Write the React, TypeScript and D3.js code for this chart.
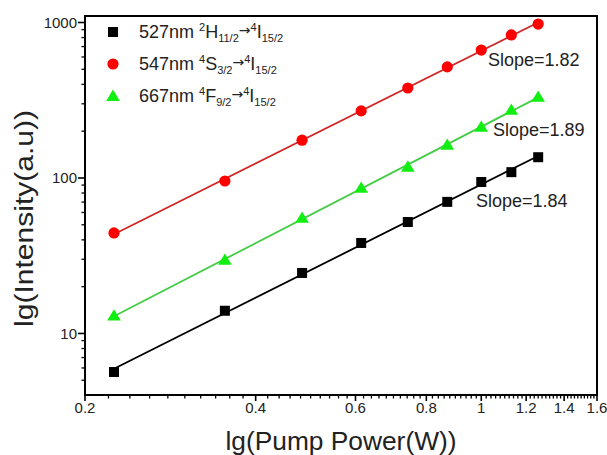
import React from "react";
import * as d3 from "d3";

const power = [0.225, 0.353, 0.483, 0.614, 0.742, 0.871, 1.0, 1.13, 1.26];
const i527 = [5.65, 14.0, 24.5, 38.2, 52.1, 70.2, 94.2, 109, 136];
const i547 = [44.3, 95.6, 175, 270, 379, 518, 665, 832, 977];
const i667 = [13.0, 29.7, 55.3, 86.3, 118, 163, 213, 274, 332];
const slopeLabels = ["Slope=1.82", "Slope=1.89", "Slope=1.84"];
const xTicks = [0.2, 0.4, 0.6, 0.8, 1, 1.2, 1.4, 1.6];
const xTickLabels = ["0.2", "0.4", "0.6", "0.8", "1", "1.2", "1.4", "1.6"];
const yTicks = [10, 100, 1000];
const yTickLabels = ["10", "100", "1000"];

const W = 607, H = 455;
const L = 85, R = 597, T = 16, B = 395;
const font = "Arial, 'Liberation Sans', sans-serif";

const x = d3.scaleLog().domain([0.2, 1.6]).range([L, R]);
const y = d3.scaleLog().domain([4.02, 1101]).range([B, T]);

function fit(xs: number[], ys: number[]) {
  const lx = xs.map(Math.log10), ly = ys.map(Math.log10);
  const mx = d3.mean(lx)!, my = d3.mean(ly)!;
  let num = 0, den = 0;
  lx.forEach((v, i) => { num += (v - mx) * (ly[i] - my); den += (v - mx) ** 2; });
  const k = num / den, b = my - k * mx;
  const x0 = xs[0], x1 = xs[xs.length - 1];
  return [[x0, Math.pow(10, b + k * Math.log10(x0))], [x1, Math.pow(10, b + k * Math.log10(x1))]];
}

const line = d3.line<number[]>().x(d => x(d[0])).y(d => y(d[1]));

const series = [
  { data: i527, marker: "square", fill: "#000000", stroke: "#000000" },
  { data: i547, marker: "circle", fill: "#ff0000", stroke: "#cc2a2a" },
  { data: i667, marker: "triangle", fill: "#11ee11", stroke: "#44cc44" },
];

function Marker({ type, cx, cy, fill }: { type: string; cx: number; cy: number; fill: string }) {
  if (type === "square") return <rect x={cx - 5} y={cy - 5} width={10} height={10} fill={fill} />;
  if (type === "circle") return <circle cx={cx} cy={cy} r={5.6} fill={fill} />;
  const s = 6.5;
  return <path d={`M${cx},${cy - s}L${cx + s * 1.05},${cy + s * 0.75}L${cx - s * 1.05},${cy + s * 0.75}Z`} fill={fill} />;
}

const minorX = d3.range(0.2, 1.6001, 0.02).map(v => +v.toFixed(2)).filter(v => !xTicks.some(t => Math.abs(t - v) < 1e-6));
const minorY: number[] = [];
[1, 10, 100].forEach(d => { for (let m = 2; m <= 9; m++) { const v = m * d; if (v >= 4.02 && v <= 1101) minorY.push(v); } });

const legendRows = [
  { y: 32, marker: "square", fill: "#000000", nm: "527nm ", pre: "2", el: "H", sub: "11/2" },
  { y: 64, marker: "circle", fill: "#ff0000", nm: "547nm ", pre: "4", el: "S", sub: "3/2" },
  { y: 96, marker: "triangle", fill: "#11ee11", nm: "667nm ", pre: "4", el: "F", sub: "9/2" },
];

const slopePos = [
  { x: 488, y: 66 },
  { x: 493, y: 136 },
  { x: 476, y: 207 },
];

export default function App() {
  return (
    <svg width={W} height={H} style={{ position: "absolute", left: 0, top: 0, background: "#fff" }} fontFamily={font}>
      <rect x={0} y={0} width={W} height={H} fill="#fff" />
      {minorX.map((v, i) => (
        <line key={"mx" + i} x1={x(v)} x2={x(v)} y1={B} y2={B + 3.5} stroke="#000" strokeWidth={1.3} />
      ))}
      {xTicks.map((v, i) => (
        <g key={"xt" + i}>
          <line x1={x(v)} x2={x(v)} y1={B} y2={B + 6} stroke="#000" strokeWidth={1.6} />
          <text x={x(v)} y={413} fontSize={15} textAnchor="middle" fill="#222">{xTickLabels[i]}</text>
        </g>
      ))}
      {minorY.map((v, i) => (
        <line key={"my" + i} x1={L - 3.5} x2={L} y1={y(v)} y2={y(v)} stroke="#000" strokeWidth={1.3} />
      ))}
      {yTicks.map((v, i) => (
        <g key={"yt" + i}>
          <line x1={L - 7} x2={L} y1={y(v)} y2={y(v)} stroke="#000" strokeWidth={1.6} />
          <text x={77} y={y(v)} dy="0.36em" fontSize={15} textAnchor="end" fill="#222">{yTickLabels[i]}</text>
        </g>
      ))}
      <rect x={L} y={T} width={R - L} height={B - T} fill="none" stroke="#000" strokeWidth={2} />

      {series.map((s, i) => (
        <path key={"l" + i} d={line(fit(power, s.data))!} fill="none" stroke={s.stroke} strokeWidth={1.8} />
      ))}
      {series.map((s, i) => s.data.map((v, j) => (
        <Marker key={`m${i}-${j}`} type={s.marker} cx={x(power[j])} cy={y(v)} fill={s.fill} />
      )))}

      {slopeLabels.map((t, i) => (
        <text key={"s" + i} x={slopePos[i].x} y={slopePos[i].y} fontSize={18} fill="#222">{t}</text>
      ))}

      {legendRows.map((r, i) => (
        <g key={"lg" + i}>
          <Marker type={r.marker} cx={113} cy={r.y} fill={r.fill} />
          <text x={139} y={r.y + 6} fontSize={18} fill="#222">
            <tspan>{r.nm}</tspan>
            <tspan fontSize={11} dy={-7}>{r.pre}</tspan>
            <tspan dy={7}>{r.el}</tspan>
            <tspan fontSize={11} dy={4}>{r.sub}</tspan>
            <tspan fontSize={14} fontFamily="'DejaVu Sans', sans-serif" dy={-7}>→</tspan>
            <tspan fontSize={11} dy={-4}>4</tspan>
            <tspan dy={7}>I</tspan>
            <tspan fontSize={11} dy={4}>15/2</tspan>
          </text>
        </g>
      ))}

      <text x={341} y={450} fontSize={26} textAnchor="middle" fill="#222" textLength={231} lengthAdjust="spacingAndGlyphs">lg(Pump Power(W))</text>
      <text transform="translate(33,218.5) rotate(-90)" fontSize={26} textAnchor="middle" fill="#222" textLength={217} lengthAdjust="spacingAndGlyphs">lg(Intensity(a.u))</text>
    </svg>
  );
}
